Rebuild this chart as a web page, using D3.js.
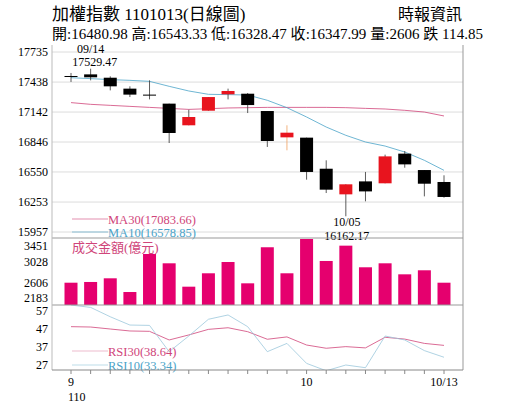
<!DOCTYPE html>
<html><head><meta charset="utf-8">
<script src="https://cdn.jsdelivr.net/npm/d3@7"></script>
<style>body{margin:0;background:#fff}text{font-family:"Liberation Serif","Noto Sans CJK TC",serif}</style>
</head><body><svg id="c" width="515" height="413"></svg>
<script>
const opens  = [17498,17514,17481,17373,17314,17225,17011,17155,17317,17323,17152,16892,16889,16582,16329,16457,16438,16731,16569,16451];
const highs  = [17528,17570,17495,17396,17455,17225,17165,17290,17373,17330,17152,17011,16889,16665,16428,16550,16721,16757,16569,16517];
const lows   = [17439,17455,17356,17290,17267,16836,17011,17155,17267,17132,16797,16764,16474,16342,16112,16260,16438,16592,16309,16296];
const closes = [17491,17485,17396,17314,17312,16935,17093,17290,17350,17211,16856,16938,16550,16375,16428,16358,16704,16625,16434,16303];
const ma10 = [17481,17472,17462,17455,17445,17396,17350,17317,17314,17310,17258,17185,17093,16994,16912,16846,16806,16747,16665,16566];
const ma30 = [17235,17218,17208,17198,17188,17178,17168,17175,17182,17185,17188,17188,17188,17188,17185,17178,17172,17159,17142,17103];
const volume = [2606,2620,2691,2426,3161,2981,2529,2788,3006,2594,3291,2788,3451,3026,3322,2904,2981,2768,2846,2606];
const rsi30 = [48.3,48.1,47.0,45.9,45.7,40.9,43.7,46.8,47.7,45.5,41.3,42.6,38.1,36.3,37.2,36.5,42.4,41.4,39.0,37.9];
const rsi10 = [60.3,59.0,53.8,49.2,49.0,34.4,43.1,52.4,54.8,48.3,34.4,39.0,27.9,23.8,27.0,25.5,43.1,40.9,35.0,31.3];
const priceTicks = [17735,17438,17142,16846,16550,16253,15957];
const volTicks = [3451,3028,2606,2183];
const rsiTicks = [57,47,37,27];
const xLabels = [[0,"9"],[12,"10"],[19,"10/13"]];

const svg = d3.select("#c");
const L = 52, R = 463;
const x = d3.scaleLinear().domain([0,19]).range([71,444]);
const yP = d3.scaleLinear().domain([15957,17735]).range([232,52]);
const yV = d3.scaleLinear().domain([2175,3470]).range([305,238]);
const yR = d3.scaleLinear().domain([27,57]).range([365,311]);
const pink = "#e5006e", blue = "#4aa3c8", mapink = "#d0457a";
const idx = d3.range(20);

// header
svg.append("text").attr("x",52).attr("y",20).attr("font-size",17).text("加權指數 1101013(日線圖)");
svg.append("text").attr("x",462).attr("y",20).attr("font-size",16).attr("text-anchor","end").text("時報資訊");
svg.append("text").attr("x",52).attr("y",39).attr("font-size",15).attr("textLength",431).text("開:16480.98 高:16543.33 低:16328.47 收:16347.99 量:2606 跌 114.85");

// price grid
svg.append("g").selectAll("line").data(priceTicks).enter().append("line")
  .attr("x1",L).attr("x2",R).attr("y1",d=>yP(d)).attr("y2",d=>yP(d))
  .attr("stroke","#dcdcdc");
svg.append("g").selectAll("text").data(priceTicks).enter().append("text")
  .attr("x",48).attr("y",d=>yP(d)+4).attr("text-anchor","end").attr("font-size",12).text(d=>d);

// MA lines
const line = (ys, arr) => d3.line().x((d,i)=>x(i)).y(d=>ys(d))(arr);
svg.append("path").attr("d",line(yP,ma30)).attr("fill","none").attr("stroke",mapink).attr("stroke-width",0.8);
svg.append("path").attr("d",line(yP,ma10)).attr("fill","none").attr("stroke",blue).attr("stroke-width",0.8);

// candles
const cg = svg.append("g");
idx.forEach(i => {
  const up = closes[i] > opens[i];
  const col = up ? "#e8141e" : "#000";
  cg.append("line").attr("x1",x(i)).attr("x2",x(i)).attr("y1",yP(highs[i])).attr("y2",yP(lows[i]))
    .attr("stroke", i==11 ? "#f0a060" : "#333").attr("stroke-width",0.8);
  const top = yP(Math.max(opens[i],closes[i])), bot = yP(Math.min(opens[i],closes[i]));
  cg.append("rect").attr("x",x(i)-6.5).attr("width",13).attr("y",top).attr("height",Math.max(1,bot-top))
    .attr("fill",col);
});

// annotations
svg.append("text").attr("x",x(1)).attr("y",53).attr("text-anchor","middle").attr("font-size",12).text("09/14");
svg.append("text").attr("x",x(1)+4).attr("y",66).attr("text-anchor","middle").attr("font-size",12).text("17529.47");
svg.append("text").attr("x",x(14)+1).attr("y",226).attr("text-anchor","middle").attr("font-size",12).text("10/05");
svg.append("text").attr("x",x(14)+1).attr("y",240).attr("text-anchor","middle").attr("font-size",12).text("16162.17");

// MA legend
[[219,mapink,"MA30(17083.66)"],[232,blue,"MA10(16578.85)"]].forEach(([yy,c,t]) => {
  svg.append("line").attr("x1",72).attr("x2",108).attr("y1",yy).attr("y2",yy).attr("stroke",c).attr("stroke-width",0.6);
  svg.append("text").attr("x",108).attr("y",yy+5).attr("font-size",12.5).attr("fill",c).text(t);
});

// volume
svg.append("g").selectAll("rect").data(volume).enter().append("rect")
  .attr("x",(d,i)=>x(i)-6.5).attr("width",13).attr("y",d=>yV(d)).attr("height",d=>305-yV(d)).attr("fill",pink);
svg.append("g").selectAll("text").data(volTicks).enter().append("text")
  .attr("x",48).attr("y",(d,i)=>[250,266,287,302][i]).attr("text-anchor","end").attr("font-size",12).text(d=>d);
svg.append("text").attr("x",72).attr("y",252).attr("font-size",13).attr("fill",mapink).text("成交金額(億元)");

// RSI
svg.append("defs").append("clipPath").attr("id","rc").append("rect").attr("x",L).attr("y",305).attr("width",R-L).attr("height",65);
svg.append("path").attr("d",line(yR,rsi30)).attr("fill","none").attr("stroke",mapink).attr("stroke-width",0.8).attr("clip-path","url(#rc)");
svg.append("path").attr("d",line(yR,rsi10)).attr("fill","none").attr("stroke","#9cc8dc").attr("stroke-width",0.8).attr("clip-path","url(#rc)");
svg.append("g").selectAll("text").data(rsiTicks).enter().append("text")
  .attr("x",48).attr("y",d=>yR(d)+4).attr("text-anchor","end").attr("font-size",12).text(d=>d);
[[351,mapink,"RSI30(38.64)"],[365,blue,"RSI10(33.34)"]].forEach(([yy,c,t]) => {
  svg.append("line").attr("x1",72).attr("x2",108).attr("y1",yy).attr("y2",yy).attr("stroke",c).attr("stroke-width",0.6).attr("opacity",0.6);
  svg.append("text").attr("x",108).attr("y",yy+5).attr("font-size",12.5).attr("fill",c).text(t);
});

// frames
[238,305].forEach(yy => svg.append("line").attr("x1",L).attr("x2",R).attr("y1",yy).attr("y2",yy).attr("stroke","#999").attr("stroke-width",1.2));
svg.append("line").attr("x1",R).attr("x2",R).attr("y1",45).attr("y2",370).attr("stroke","#999");
svg.append("line").attr("x1",L).attr("x2",L).attr("y1",45).attr("y2",370).attr("stroke","#bbb");
svg.append("line").attr("x1",L).attr("x2",R).attr("y1",370).attr("y2",370).attr("stroke","#888");
svg.append("g").selectAll("line").data(idx).enter().append("line")
  .attr("x1",d=>x(d)).attr("x2",d=>x(d)).attr("y1",370).attr("y2",374).attr("stroke","#888");
svg.append("g").selectAll("text").data(xLabels).enter().append("text")
  .attr("x",d=>x(d[0])).attr("y",386).attr("text-anchor","middle").attr("font-size",12).text(d=>d[1]);
svg.append("text").attr("x",x(0)-3).attr("y",401).attr("font-size",12).text("110");
</script></body></html>
